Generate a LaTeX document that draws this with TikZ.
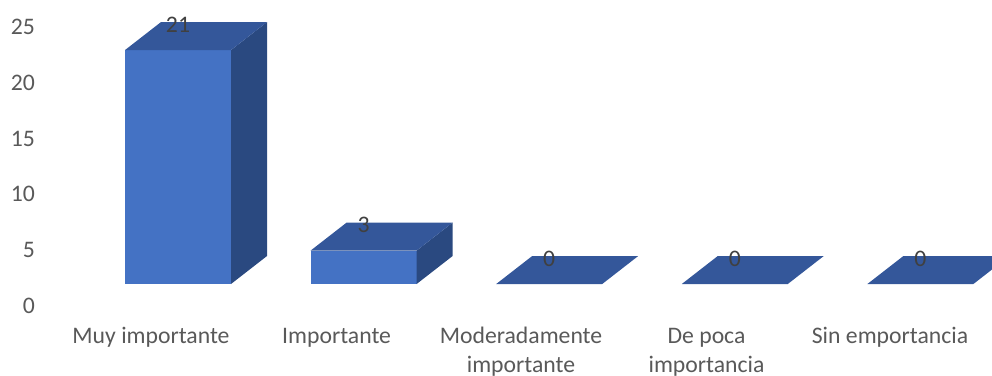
\documentclass[tikz,border=0pt]{standalone}
\usepackage{fontspec}
\setmainfont{Carlito}
\definecolor{front}{HTML}{4472C4}
\definecolor{topc}{HTML}{34579A}
\definecolor{sidec}{HTML}{2A4980}
\definecolor{axtxt}{HTML}{595959}
\definecolor{valtxt}{HTML}{404040}
\tikzset{
  axlabel/.style={anchor=base east, inner sep=0pt, text=axtxt, font=\fontsize{23.7}{29}\selectfont},
  catlabel/.style={anchor=base, inner sep=0pt, text=axtxt, font=\fontsize{23.7}{29}\selectfont},
  vallabel/.style={anchor=base, inner sep=0pt, text=valtxt, font=\fontsize{23.7}{29}\selectfont},
}
\begin{document}
\begin{tikzpicture}[x=1pt,y=-1pt]
\useasboundingbox (0,0) rectangle (992,375);
\clip (0,0) rectangle (992,375);
% axis labels
\foreach \v [count=\i from 0] in {0,5,10,15,20,25}
  \node[axlabel] (ax\v) at (35,{313.3-55.7*\i}) {\v};
% bars
\foreach \val/\cat/\i in {21/a/0,3/b/1,0/c/2,0/d/3,0/e/4}{
  \pgfmathsetmacro{\xl}{125+185.6*\i}
  \pgfmathsetmacro{\h}{\val*11.14}
  \pgfmathsetmacro{\yt}{284-\h}
  \pgfmathsetmacro{\ybt}{256-\h}
  \ifdim\h pt>0pt
    \fill[front] (\xl,\yt) rectangle ({\xl+106},284);
    \fill[sidec] ({\xl+106},284) -- ({\xl+106},\yt) -- ({\xl+142},\ybt) -- ({\xl+142},256) -- cycle;
  \fi
  \fill[topc] (\xl,\yt) -- ({\xl+36},\ybt) -- ({\xl+142},\ybt) -- ({\xl+106},\yt) -- cycle;
  \node[vallabel] (v\cat) at ({\xl+53},{\ybt+10}) {\val};
}
% category labels
\node[catlabel] (c1) at (151,343.3) {Muy importante};
\node[catlabel] (c2) at (336.6,343.3) {Importante};
\node[catlabel] (c3a) at (521,343.3) {Moderadamente};
\node[catlabel] (c3b) at (521,372.3) {importante};
\node[catlabel] (c4a) at (706.5,343.3) {De poca};
\node[catlabel] (c4b) at (706.5,372.3) {importancia};
\node[catlabel] (c5) at (890,343.3) {Sin emportancia};
\end{tikzpicture}
\end{document}
